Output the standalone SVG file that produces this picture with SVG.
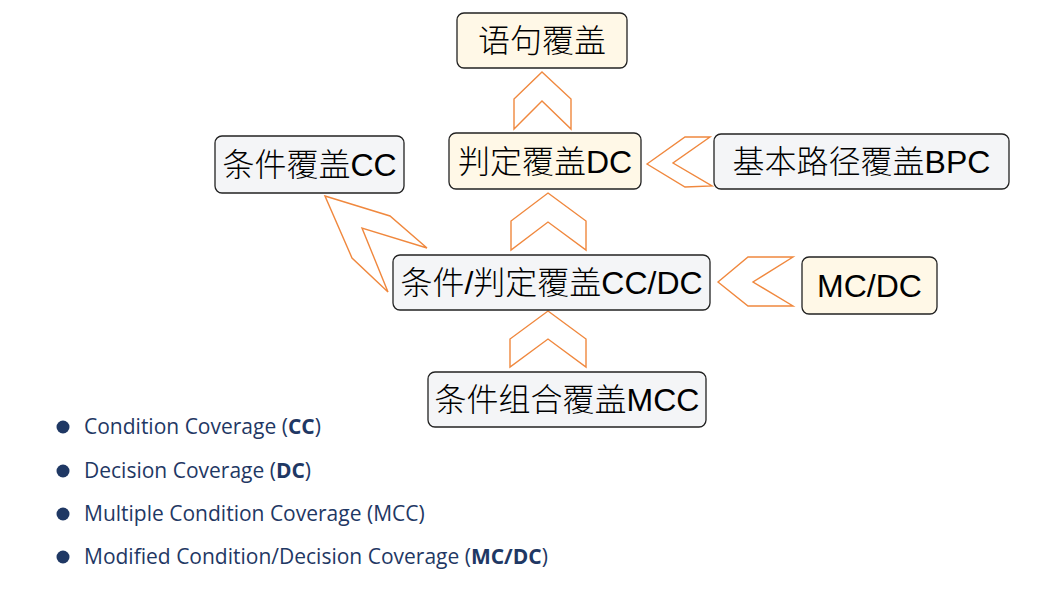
<svg xmlns="http://www.w3.org/2000/svg" width="1062" height="597" viewBox="0 0 1062 597">
<style>
.box{stroke:#222;stroke-width:1.3}
.cream{fill:#FFF8E7}
.gray{fill:#F4F5F7}
.lbl{font-family:"Liberation Sans","Noto Sans CJK SC",sans-serif;font-size:32px;font-weight:300;fill:#000;text-anchor:middle}
.chev{fill:#fff;stroke:#F0883E;stroke-width:1.4;stroke-linejoin:miter}
.leg{font-family:"Open Sans","Noto Sans",sans-serif;font-size:21px;fill:#1F3864}
.dot{fill:#1F3864}
</style>
<rect width="1062" height="597" fill="#fff"/>
<g id="connectors">
<polygon class="chev" points="542,72 571,99 571,129 542,101 514,129 514,99"/>
<polygon class="chev" points="548,193 586,221 586,250 548,222 511,250 511,221"/>
<polygon class="chev" points="548,311 586,339 586,367 548,339 510,367 510,339"/>
<polygon class="chev" points="647,164 685,137 710,137 673,163 712,186 685,187"/>
<polygon class="chev" points="718,282 748,257 793,257 753,282 793,306 748,306"/>
<polygon class="chev" points="325,196 390,216 427,248 362,228 388,292 352,258"/>
</g>
<g id="n-stmt"><rect class="box cream" x="457" y="13" width="170" height="55" rx="7"/><text class="lbl" x="542" y="52">语句覆盖</text></g>
<g id="n-dc"><rect class="box cream" x="449" y="133" width="192" height="56" rx="7"/><text class="lbl" x="545" y="173">判定覆盖DC</text></g>
<g id="n-cc"><rect class="box gray" x="215" y="136" width="189" height="57" rx="7"/><text class="lbl" x="309.5" y="176">条件覆盖CC</text></g>
<g id="n-bpc"><rect class="box gray" x="714" y="134" width="295" height="55" rx="7"/><text class="lbl" x="861.5" y="173">基本路径覆盖BPC</text></g>
<g id="n-ccdc"><rect class="box gray" x="393" y="255" width="317" height="55" rx="7"/><text class="lbl" x="551.5" y="294">条件/判定覆盖CC/DC</text></g>
<g id="n-mcdc"><rect class="box cream" x="802" y="257" width="135" height="57" rx="7"/><text class="lbl" x="869.5" y="297">MC/DC</text></g>
<g id="n-mcc"><rect class="box gray" x="428" y="372" width="278" height="55" rx="7"/><text class="lbl" x="567" y="411">条件组合覆盖MCC</text></g>
<g id="legend">
<circle class="dot" cx="63" cy="427" r="6.5"/>
<text class="leg" x="84" y="434">Condition Coverage (<tspan font-weight="bold">CC</tspan>)</text>
<circle class="dot" cx="63" cy="471" r="6.5"/>
<text class="leg" x="84" y="478">Decision Coverage (<tspan font-weight="bold">DC</tspan>)</text>
<circle class="dot" cx="63" cy="514" r="6.5"/>
<text class="leg" x="84" y="521">Multiple Condition Coverage (MCC)</text>
<circle class="dot" cx="63" cy="557" r="6.5"/>
<text class="leg" x="84" y="564">Modified Condition/Decision Coverage (<tspan font-weight="bold">MC/DC</tspan>)</text>
</g>
</svg>
